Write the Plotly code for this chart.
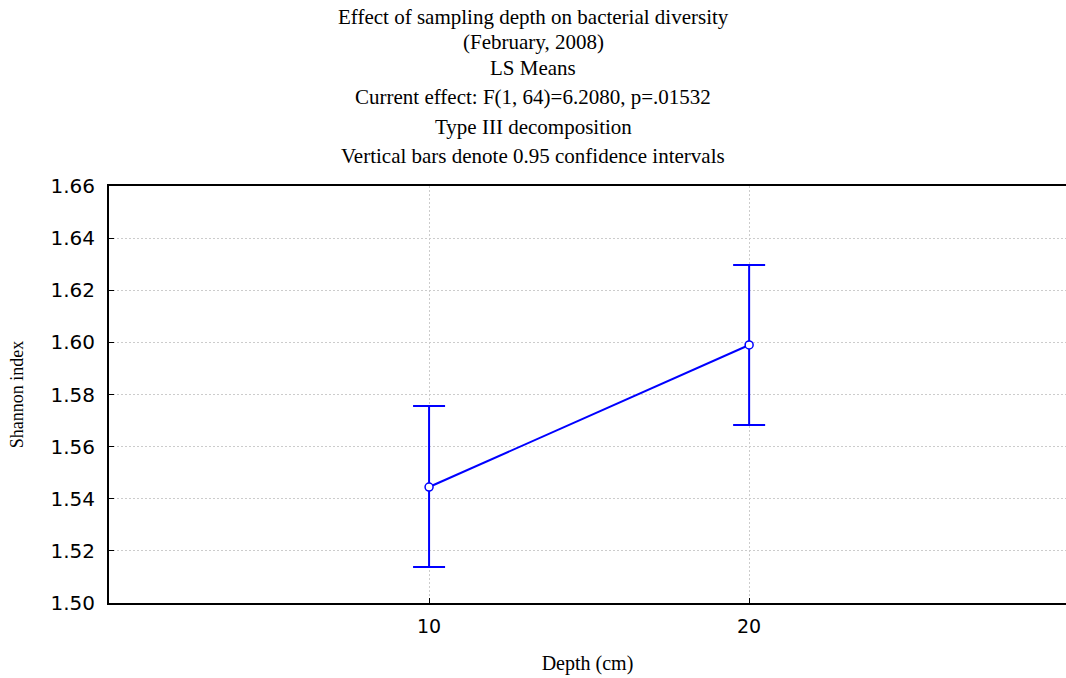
import plotly.graph_objects as go

depth = [10, 20]
shannon_mean = [1.5445, 1.599]
ci_upper = [1.5756, 1.6297]
ci_lower = [1.5138, 1.5683]

title_lines = [
    "Effect of sampling depth on bacterial diversity",
    "(February, 2008)",
    "LS Means",
    "Current effect: F(1, 64)=6.2080, p=.01532",
    "Type III decomposition",
    "Vertical bars denote 0.95 confidence intervals",
]
title_y_px = [17, 42, 68, 97, 127, 156]

y_ticks = [1.50, 1.52, 1.54, 1.56, 1.58, 1.60, 1.62, 1.64, 1.66]
x_ticks = [10, 20]

W, H = 1066, 678
L, R, T, B = 109, 0, 186, 75
plot_h = H - T - B

err_plus = [u - m for u, m in zip(ci_upper, shannon_mean)]
err_minus = [m - l for m, l in zip(shannon_mean, ci_lower)]

fig = go.Figure()
fig.add_trace(go.Scatter(
    x=depth, y=shannon_mean, mode="lines+markers",
    line=dict(color="#0000ff", width=2),
    marker=dict(size=8, color="white", line=dict(color="#0000ff", width=1.5)),
    error_y=dict(type="data", symmetric=False, array=err_plus, arrayminus=err_minus,
                 color="#0000ff", thickness=2, width=16),
    showlegend=False,
))

serif = "Liberation Serif, Times New Roman, serif"
sans = "DejaVu Sans, Arial, sans-serif"

annotations = []
for txt, ypx in zip(title_lines, title_y_px):
    annotations.append(dict(
        text=txt, xref="paper", yref="paper", x=(W / 2 - L) / (W - L - R),
        y=(H - B - ypx) / plot_h, xanchor="center", yanchor="middle",
        showarrow=False, font=dict(family=serif, size=21, color="black"),
    ))

fig.update_layout(
    width=W, height=H,
    margin=dict(l=L, r=R, t=T, b=B),
    paper_bgcolor="white", plot_bgcolor="white",
    annotations=annotations,
    xaxis=dict(
        range=[0, 29.9], tickvals=x_ticks, ticktext=[str(v) for v in x_ticks],
        showgrid=True, gridcolor="#cccccc", griddash="2px,2px", gridwidth=1,
        showline=True, linecolor="black", linewidth=2, mirror=True,
        ticks="inside", ticklen=5, tickcolor="black",
        ticklabelstandoff=5,
        tickfont=dict(family=sans, size=19, color="black"),
        title=dict(text="Depth (cm)", font=dict(family=serif, size=20, color="black"), standoff=20),
        zeroline=False,
    ),
    yaxis=dict(
        range=[1.50, 1.66], tickvals=y_ticks, ticktext=[f"{v:.2f}" for v in y_ticks],
        showgrid=True, gridcolor="#cccccc", griddash="2px,2px", gridwidth=1,
        showline=True, linecolor="black", linewidth=2, mirror=False,
        ticks="inside", ticklen=5, tickcolor="black",
        ticklabelstandoff=8,
        tickfont=dict(family=sans, size=20, color="black"),
        title=dict(text="Shannon index", font=dict(family=serif, size=18, color="black"), standoff=22),
        zeroline=False,
    ),
)

fig.write_html("out.html")
